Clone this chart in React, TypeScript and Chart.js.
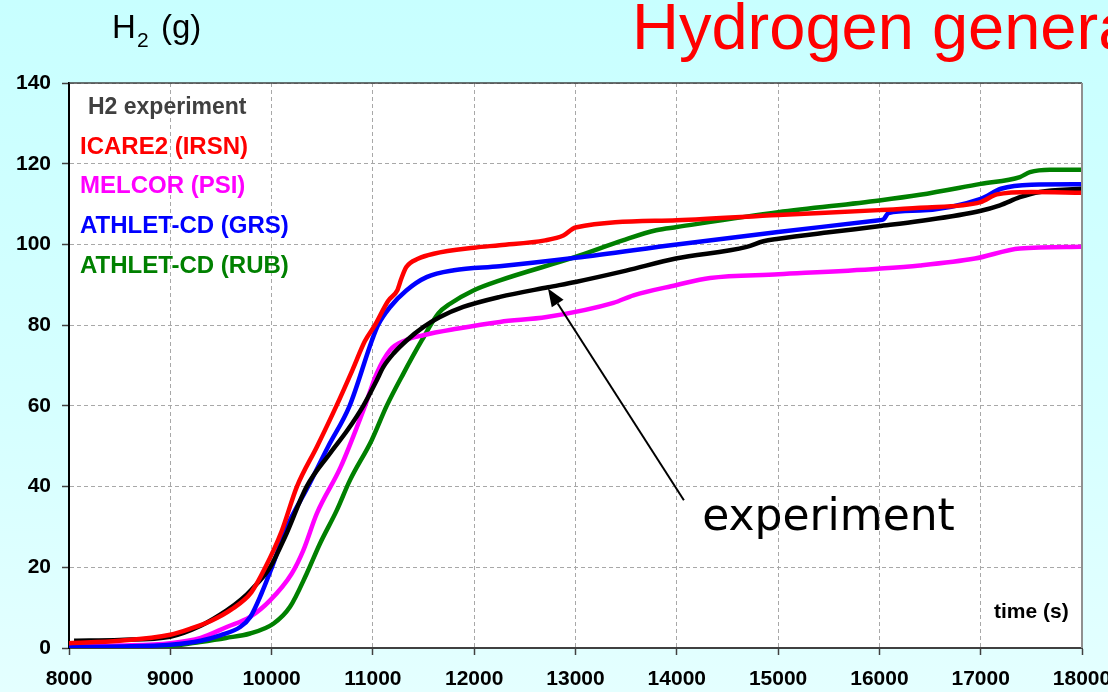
import React, { useEffect, useRef } from "react";
import { Chart, registerables } from "chart.js";
Chart.register(...registerables);

// ---- data (time in s, H2 in g) ----
const expT = [8050, 8500, 9000, 9300, 9557, 9700, 9803, 9985, 10132, 10346, 10576, 10750, 10905, 11037, 11102, 11201, 11333, 11497, 11662, 11892, 12254, 12730, 13000, 13500, 13990, 14690, 14855, 15005, 15500, 15992, 16400, 16993, 17190, 17387, 17584, 18000];
const expV = [1.8, 2.0, 2.8, 5.5, 9.3, 12.0, 14.5, 20.0, 27.5, 40.0, 48.2, 54.0, 60.0, 66.3, 69.6, 72.9, 76.2, 79.5, 82.0, 84.5, 87.0, 89.4, 90.7, 93.5, 96.5, 99.4, 100.8, 101.4, 103.0, 104.5, 105.8, 108.3, 109.7, 111.7, 113.0, 113.8];

const icareT = [8000, 8500, 9000, 9200, 9400, 9600, 9800, 9935, 10100, 10250, 10450, 10640, 10800, 10920, 11020, 11150, 11240, 11280, 11330, 11450, 11600, 12000, 12250, 12700, 12880, 13000, 14000, 15000, 16000, 16400, 17000, 17160, 17500, 18000];
const icareV = [1.2, 1.8, 3.3, 4.8, 6.7, 9.5, 13.8, 19.8, 29.0, 40.0, 50.0, 60.0, 69.0, 76.0, 80.0, 86.0, 88.6, 91.5, 94.4, 96.5, 97.7, 99.2, 99.8, 101.0, 102.2, 104.2, 106.0, 107.3, 108.5, 109.1, 110.5, 112.4, 113.0, 112.8];

const melcorT = [8000, 8500, 9000, 9300, 9557, 9787, 9985, 10198, 10313, 10446, 10681, 10922, 11037, 11169, 11317, 11497, 11826, 12254, 12716, 13374, 13572, 13990, 14328, 15005, 15992, 16400, 16943, 17387, 18000];
const melcorV = [0.4, 0.6, 1.2, 2.5, 5.2, 7.7, 11.8, 18.4, 24.2, 33.3, 44.8, 60.0, 68.0, 73.8, 76.2, 77.5, 79.1, 80.8, 82.0, 85.5, 87.4, 89.9, 91.7, 92.6, 94.0, 94.8, 96.5, 99.0, 99.4];

const grsT = [8000, 8500, 9000, 9300, 9500, 9690, 9790, 9900, 10000, 10150, 10360, 10560, 10770, 10990, 11050, 11170, 11330, 11530, 11800, 12250, 13000, 14000, 15000, 16000, 16040, 16090, 16400, 17000, 17200, 17500, 18000];
const grsV = [0.3, 0.4, 0.8, 1.8, 3.2, 5.2, 7.7, 13.5, 19.8, 30.0, 40.0, 50.0, 60.0, 76.2, 80.0, 84.5, 88.6, 91.9, 93.6, 94.6, 96.7, 100.0, 103.1, 106.0, 106.2, 107.8, 108.4, 111.3, 113.8, 114.8, 114.9];

const rubT = [8000, 8400, 8700, 9000, 9293, 9550, 9787, 10017, 10182, 10346, 10478, 10643, 10774, 10988, 11136, 11301, 11482, 11646, 11762, 11992, 12254, 13000, 13467, 13796, 14000, 15000, 16000, 16400, 17000, 17387, 17486, 17684, 18000];
const rubV = [0.0, 0.0, 0.2, 0.5, 1.5, 2.5, 3.6, 6.0, 10.2, 18.4, 25.9, 34.1, 41.6, 51.5, 60.0, 68.0, 76.2, 82.9, 85.3, 88.6, 91.1, 96.9, 101.0, 103.5, 104.3, 108.0, 110.9, 112.3, 115.0, 116.7, 117.9, 118.5, 118.5];

const legendLabels = ["H2 experiment", "ICARE2 (IRSN)", "MELCOR (PSI)", "ATHLET-CD (GRS)", "ATHLET-CD (RUB)"];
const legendColors = ["#404040", "#FF0000", "#FF00FF", "#0000FF", "#008000"];

const xMin = 8000, xMax = 18000, xStep = 1000;
const yMin = 0, yMax = 140, yStep = 20;

// annotation arrow (data space): tail -> tip on experiment curve
const arrowTail = { x: 14070, y: 36.6 };
const arrowTip = { x: 12728, y: 89.1 };
const arrowLabel = { x: 14250, y: 29.2, text: "experiment" };

const FONT = "'Liberation Sans', Arial, Helvetica, sans-serif";

const pts = (t: number[], v: number[]) => t.map((x, i) => ({ x, y: v[i] }));

export default function App() {
  const ref = useRef<HTMLCanvasElement>(null);

  useEffect(() => {
    const deco = {
      id: "deco",
      beforeDraw(chart: any) {
        const { ctx, chartArea: a } = chart;
        ctx.save();
        ctx.fillStyle = "#FFFFFF";
        ctx.fillRect(a.left, a.top, a.right - a.left, a.bottom - a.top);
        ctx.restore();
      },
      afterDraw(chart: any) {
        const { ctx, chartArea: a, scales } = chart;
        ctx.save();
        // top and right frame
        ctx.strokeStyle = "#404040";
        ctx.lineWidth = 1.5;
        ctx.beginPath();
        ctx.moveTo(a.left, a.top);
        ctx.lineTo(a.right, a.top);
        ctx.stroke();
        ctx.strokeStyle = "#909090";
        ctx.lineWidth = 2;
        ctx.beginPath();
        ctx.moveTo(a.right, a.top);
        ctx.lineTo(a.right, a.bottom);
        ctx.stroke();

        // y axis title H2 (g)
        ctx.fillStyle = "#000";
        ctx.textBaseline = "alphabetic";
        ctx.textAlign = "left";
        ctx.font = `33px ${FONT}`;
        ctx.fillText("H", 112, 38);
        ctx.font = `21px ${FONT}`;
        ctx.fillText("2", 137, 47);
        ctx.font = `33px ${FONT}`;
        ctx.fillText("(g)", 161, 38);

        // page title
        ctx.fillStyle = "#FF0000";
        ctx.font = `65px ${FONT}`;
        ctx.fillText("Hydrogen generation", 632, 49);

        // legend labels
        const lx = [88, 80, 80, 80, 80];
        const ly = [114, 154, 193, 233, 273];
        legendLabels.forEach((s, i) => {
          ctx.fillStyle = legendColors[i];
          ctx.font = `bold ${i === 0 ? 23 : 24}px ${FONT}`;
          ctx.fillText(s, lx[i], ly[i]);
        });

        // x axis title
        ctx.fillStyle = "#000";
        ctx.font = `bold 21px ${FONT}`;
        ctx.fillText("time (s)", 994, 618);

        // arrow annotation
        const x1 = scales.x.getPixelForValue(arrowTail.x);
        const y1 = scales.y.getPixelForValue(arrowTail.y);
        const x2 = scales.x.getPixelForValue(arrowTip.x);
        const y2 = scales.y.getPixelForValue(arrowTip.y);
        const ang = Math.atan2(y2 - y1, x2 - x1);
        const hl = 18, hw = 7;
        const bx = x2 - hl * Math.cos(ang);
        const by = y2 - hl * Math.sin(ang);
        ctx.strokeStyle = "#000";
        ctx.lineWidth = 2;
        ctx.beginPath();
        ctx.moveTo(x1, y1);
        ctx.lineTo(bx, by);
        ctx.stroke();
        ctx.fillStyle = "#000";
        ctx.beginPath();
        ctx.moveTo(x2, y2);
        ctx.lineTo(bx + hw * Math.sin(ang), by - hw * Math.cos(ang));
        ctx.lineTo(bx - hw * Math.sin(ang), by + hw * Math.cos(ang));
        ctx.closePath();
        ctx.fill();

        ctx.font = `44px 'DejaVu Sans', Verdana, sans-serif`;
        ctx.fillText(
          arrowLabel.text,
          scales.x.getPixelForValue(arrowLabel.x),
          scales.y.getPixelForValue(arrowLabel.y)
        );
        ctx.restore();
      },
    };

    const line = (label: string, t: number[], v: number[], color: string, w: number) => ({
      label,
      data: pts(t, v),
      borderColor: color,
      backgroundColor: color,
      borderWidth: w,
      pointRadius: 0,
      fill: false,
      cubicInterpolationMode: "monotone" as const,
    });

    const chart = new Chart(ref.current!, {
      type: "line",
      data: {
        datasets: [
          line("ICARE2 (IRSN)", icareT, icareV, "#FF0000", 4.5),
          line("H2 experiment", expT, expV, "#000000", 4.5),
          line("ATHLET-CD (GRS)", grsT, grsV, "#0000FF", 4.5),
          line("MELCOR (PSI)", melcorT, melcorV, "#FF00FF", 4.5),
          line("ATHLET-CD (RUB)", rubT, rubV, "#008000", 4.5),
        ],
      },
      options: {
        animation: false,
        responsive: false,
        devicePixelRatio: 1,
        layout: { padding: { top: 83, right: 26, bottom: 0, left: 0 } },
        plugins: { legend: { display: false }, tooltip: { enabled: false } },
        scales: {
          x: {
            type: "linear",
            min: xMin,
            max: xMax,
            afterFit: (s: any) => {
              s.height = 44;
              s.paddingLeft = 0;
              s.paddingRight = 0;
            },
            ticks: {
              stepSize: xStep,
              autoSkip: false,
              maxRotation: 0,
              padding: 12,
              color: "#000",
              font: { family: FONT, size: 21, weight: "bold" },
              callback: (v: any) => String(v),
            },
            grid: { color: "#A8A8A8", lineWidth: 1, tickLength: 7, tickColor: "#404040", tickWidth: 1.5 },
            border: { color: "#404040", width: 2, dash: [4, 3] },
          },
          y: {
            type: "linear",
            min: yMin,
            max: yMax,
            afterFit: (s: any) => {
              s.width = 69;
              s.paddingTop = 0;
              s.paddingBottom = 0;
            },
            ticks: {
              stepSize: yStep,
              padding: 11,
              color: "#000",
              font: { family: FONT, size: 21, weight: "bold" },
              callback: (v: any) => String(v),
            },
            grid: { color: "#A8A8A8", lineWidth: 1, tickLength: 7, tickColor: "#404040", tickWidth: 1.5 },
            border: { color: "#000000", width: 2, dash: [4, 3] },
          },
        },
      },
      plugins: [deco],
    });
    return () => chart.destroy();
  }, []);

  return (
    <div
      style={{
        position: "absolute",
        left: 0,
        top: 0,
        width: 1108,
        height: 692,
        background: "linear-gradient(180deg, #C8FFFF 0%, #D6FFFF 60%, #E4FFFF 100%)",
      }}
    >
      <canvas ref={ref} width={1108} height={692} style={{ display: "block" }} />
    </div>
  );
}
